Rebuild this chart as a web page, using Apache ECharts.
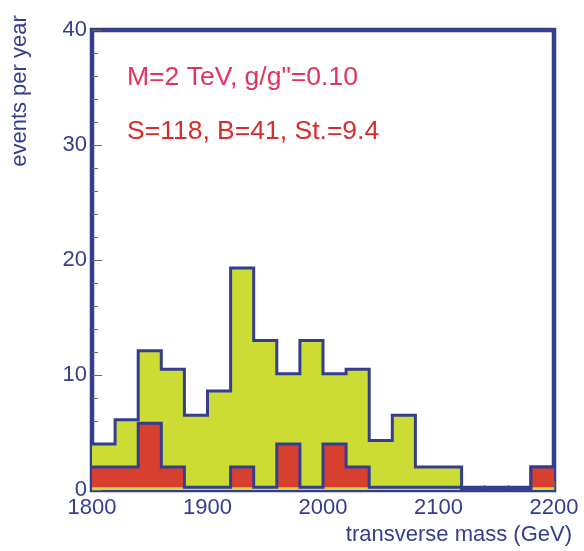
<!DOCTYPE html>
<html>
<head>
<meta charset="utf-8">
<script src="https://cdn.jsdelivr.net/npm/echarts@6/dist/echarts.min.js"></script>
<style>html,body{margin:0;padding:0;background:#fff}#c{width:584px;height:551px}</style>
</head>
<body>
<div id="c"></div>
<script>
// bin edges (GeV), 20 GeV bins from 1800 to 2200
const binEdges = [1800,1820,1840,1860,1880,1900,1920,1940,1960,1980,2000,2020,2040,2060,2080,2100,2120,2140,2160,2180,2200];
// total (signal + background) events per bin
const totalValues = [4.0,6.1,12.1,10.5,6.5,8.6,19.3,13.0,10.1,13.0,10.1,10.5,4.3,6.5,2.0,2.0,0,0,0,2.0];
// background events per bin
const backgroundValues = [2.0,2.0,5.8,2.0,0,0,2.0,0,4.0,0,4.0,2.0,0,0,0,0,0,0,0,2.0];
const xTicks = [1800,1900,2000,2100,2200];
const yTicks = [0,10,20,30,40];
const annotation1 = 'M=2 TeV, g/g"=0.10';
const annotation2 = 'S=118, B=41, St.=9.4';

const BLUE = '#343e8f';
const FONT = '"Liberation Sans", Arial, sans-serif';
const RED_BASE = 0.25;

function stepData(vals, base) {
  const d = [];
  for (let i = 0; i < vals.length; i++) d.push([binEdges[i], Math.max(vals[i], base)]);
  d.push([binEdges[binEdges.length - 1], Math.max(vals[vals.length - 1], base)]);
  return d;
}

const chart = echarts.init(document.getElementById('c'), null, {renderer: 'canvas'});
chart.setOption({
  animation: false,
  backgroundColor: '#fff',
  grid: {left: 92, right: 30, top: 30, bottom: 61, show: true, borderColor: BLUE, borderWidth: 4.5, backgroundColor: 'transparent'},
  xAxis: {
    type: 'value', min: 1800, max: 2200, interval: 100,
    axisLine: {show: false},
    axisTick: {show: true, inside: true, length: 9, lineStyle: {color: '#666', width: 1}},
    minorTick: {show: true, splitNumber: 5, length: 5, lineStyle: {color: '#666', width: 1}},
    splitLine: {show: false},
    axisLabel: {color: BLUE, fontSize: 22, fontFamily: FONT, margin: 7,
      formatter: v => xTicks.includes(v) ? String(v) : ''}
  },
  yAxis: {
    type: 'value', min: 0, max: 40, interval: 10,
    axisLine: {show: false},
    axisTick: {show: true, inside: true, length: 10, lineStyle: {color: '#666', width: 1}},
    minorTick: {show: true, splitNumber: 5, length: 6, lineStyle: {color: '#666', width: 1}},
    splitLine: {show: false},
    axisLabel: {color: BLUE, fontSize: 22, fontFamily: FONT, margin: 5,
      formatter: v => yTicks.includes(v) ? String(v) : ''}
  },
  graphic: [
    {type: 'text', left: 127, top: 64, style: {text: annotation1, fill: '#e3325c', font: '26.5px ' + FONT}},
    {type: 'text', left: 127, top: 118, style: {text: annotation2, fill: '#d92a2c', font: '26.5px ' + FONT}},
    {type: 'text', x: 20, y: 91, rotation: Math.PI / 2,
      style: {text: 'events per year', fill: BLUE, font: '22px ' + FONT, align: 'center', verticalAlign: 'middle'}},
    {type: 'text', right: 12, top: 524,
      style: {text: 'transverse mass (GeV)', fill: BLUE, font: '22px ' + FONT}}
  ],
  series: [
    {
      type: 'line', step: 'end', data: stepData(totalValues, 0), symbol: 'none', z: 2,
      lineStyle: {color: BLUE, width: 3, join: 'miter'},
      areaStyle: {color: '#cddc35', opacity: 1, origin: 0}
    },
    {
      type: 'line', step: 'end', data: stepData(backgroundValues, RED_BASE), symbol: 'none', z: 3,
      lineStyle: {color: BLUE, width: 3, join: 'miter'},
      areaStyle: {color: '#d7402f', opacity: 1, origin: RED_BASE}
    }
  ]
});
</script>
</body>
</html>
